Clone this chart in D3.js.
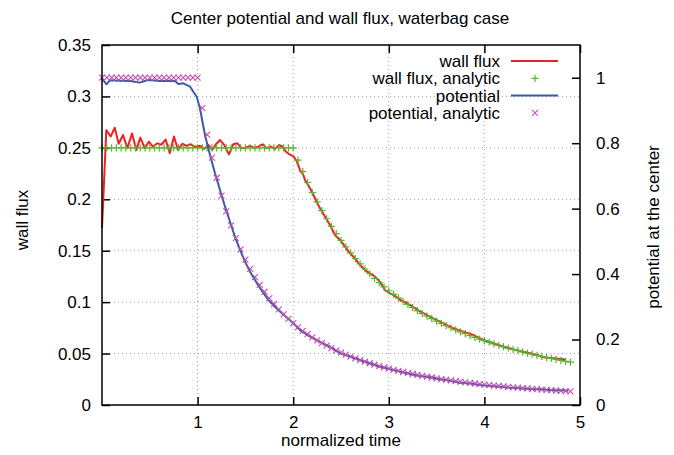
<!DOCTYPE html>
<html><head><meta charset="utf-8">
<script src="https://cdn.jsdelivr.net/npm/d3@7"></script>
<style>
body{margin:0;background:#fff;}
text{font-family:"Liberation Sans",Arial,sans-serif;fill:#000;}
</style></head>
<body><svg id="c" width="674" height="455"></svg>
<script>
// ---- data ----
const xTicks = [1, 2, 3, 4, 5];
const yLeftTicks = [0, 0.05, 0.1, 0.15, 0.2, 0.25, 0.3, 0.35];
const yRightTicks = [0, 0.2, 0.4, 0.6, 0.8, 1];

// simulated wall flux (left axis)
const fluxT = [0, 0.045, 0.091, 0.133, 0.175, 0.22, 0.265, 0.314, 0.359, 0.401, 0.447, 0.489, 0.533, 0.578, 0.62, 0.666, 0.708, 0.753, 0.795, 0.84, 0.882, 0.928, 0.97,
  1.025, 1.07, 1.112, 1.154, 1.192, 1.234, 1.279, 1.328, 1.373, 1.415, 1.461, 1.503, 1.548, 1.593, 1.635, 1.681, 1.723, 1.768, 1.81, 1.851, 1.89, 1.922, 1.956,
  2.001, 2.037, 2.071, 2.106, 2.123, 2.176, 2.228, 2.28, 2.333, 2.385, 2.437, 2.49, 2.542, 2.594, 2.646, 2.699, 2.751, 2.803, 2.856, 2.908, 2.96,
  3.013, 3.065, 3.117, 3.222, 3.326, 3.466, 3.57, 3.675, 3.779, 3.884, 3.988, 4.093, 4.198, 4.302, 4.407, 4.512, 4.616, 4.721, 4.825, 4.854];
const fluxV = [0.172, 0.2674, 0.261, 0.2696, 0.254, 0.2625, 0.2497, 0.264, 0.248, 0.26, 0.2497, 0.256, 0.2511, 0.2544, 0.253, 0.258, 0.2447, 0.261, 0.248, 0.254, 0.252, 0.2535, 0.251,
  0.252, 0.249, 0.2528, 0.248, 0.2535, 0.2576, 0.2528, 0.2437, 0.2535, 0.2544, 0.2497, 0.25, 0.252, 0.25, 0.2511, 0.2535, 0.2497, 0.2511, 0.249, 0.2528, 0.2511, 0.2464, 0.244,
  0.242, 0.237, 0.2285, 0.2236, 0.2187, 0.2107, 0.201, 0.1912, 0.1831, 0.175, 0.1653, 0.1604, 0.1539, 0.1475, 0.1426, 0.1361, 0.1312, 0.128, 0.1248, 0.1199, 0.1118,
  0.1086, 0.106, 0.1025, 0.0972, 0.091, 0.0843, 0.0794, 0.0746, 0.0713, 0.068, 0.0632, 0.06, 0.0567, 0.0541, 0.0518, 0.0496, 0.0464, 0.0454, 0.0444, 0.044];

// simulated potential at the center (right axis)
const potT = [0, 0.047, 0.084, 0.188, 0.293, 0.394, 0.481, 0.607, 0.711, 0.764, 0.798, 0.85, 0.921, 0.955, 0.991,
  1.025, 1.077, 1.13, 1.182, 1.234, 1.287, 1.339, 1.391, 1.444, 1.496, 1.548, 1.6, 1.653, 1.74, 1.844, 2.019, 2.071, 2.176, 2.28, 2.385, 2.49, 2.594, 2.699, 2.803, 2.908,
  3.013, 3.117, 3.222, 3.326, 3.431, 3.536, 3.64, 3.745, 3.849, 3.954, 4.059, 4.163, 4.268, 4.372, 4.477, 4.582, 4.686, 4.791, 4.878];
const potV = [0.998, 0.98, 0.992, 0.991, 0.99, 0.985, 0.993, 0.99, 0.991, 0.99, 0.981, 0.983, 0.973, 0.957, 0.942,
  0.906, 0.825, 0.764, 0.708, 0.657, 0.606, 0.56, 0.514, 0.474, 0.438, 0.407, 0.382, 0.357, 0.321, 0.29, 0.245, 0.229, 0.209, 0.193, 0.178, 0.158, 0.148, 0.1375, 0.127, 0.117,
  0.109, 0.102, 0.0947, 0.0886, 0.0846, 0.0785, 0.0742, 0.0681, 0.066, 0.061, 0.058, 0.056, 0.053, 0.051, 0.049, 0.048, 0.046, 0.045, 0.0437];

// analytic samples
const tAnalytic = [0, 0.05, 0.1, 0.15, 0.2, 0.25, 0.3, 0.35, 0.4, 0.45, 0.5, 0.55, 0.6, 0.65, 0.7, 0.75, 0.8, 0.85, 0.9, 0.95, 1.0,
  1.05, 1.1, 1.15, 1.2, 1.25, 1.3, 1.35, 1.4, 1.45, 1.5, 1.55, 1.6, 1.65, 1.7, 1.75, 1.8, 1.85, 1.9, 1.95, 2.0,
  2.05, 2.1, 2.15, 2.2, 2.25, 2.3, 2.35, 2.4, 2.45, 2.5, 2.55, 2.6, 2.65, 2.7, 2.75, 2.8, 2.85, 2.9, 2.95, 3.0,
  3.05, 3.1, 3.15, 3.2, 3.25, 3.3, 3.35, 3.4, 3.45, 3.5, 3.55, 3.6, 3.65, 3.7, 3.75, 3.8, 3.85, 3.9, 3.95, 4.0,
  4.05, 4.1, 4.15, 4.2, 4.25, 4.3, 4.35, 4.4, 4.45, 4.5, 4.55, 4.6, 4.65, 4.7, 4.75, 4.8, 4.85, 4.9];
const fluxAnalytic = [0.25, 0.25, 0.25, 0.25, 0.25, 0.25, 0.25, 0.25, 0.25, 0.25, 0.25, 0.25, 0.25, 0.25, 0.25, 0.25, 0.25, 0.25, 0.25, 0.25, 0.25,
  0.25, 0.25, 0.25, 0.25, 0.25, 0.25, 0.25, 0.25, 0.25, 0.25, 0.25, 0.25, 0.25, 0.25, 0.25, 0.25, 0.25, 0.25, 0.25, 0.25,
  0.238, 0.2268, 0.2163, 0.2066, 0.1975, 0.189, 0.1811, 0.1736, 0.1666, 0.16, 0.1538, 0.1479, 0.1424, 0.1372, 0.1322, 0.1276, 0.1231, 0.1189, 0.1149, 0.1111,
  0.1075, 0.1041, 0.1008, 0.0977, 0.0947, 0.0918, 0.0891, 0.0865, 0.084, 0.0816, 0.0793, 0.0772, 0.0751, 0.073, 0.0711, 0.0693, 0.0675, 0.0657, 0.0641, 0.0625,
  0.061, 0.0595, 0.0581, 0.0567, 0.0554, 0.0541, 0.0528, 0.0517, 0.0505, 0.0494, 0.0483, 0.0473, 0.0462, 0.0453, 0.0443, 0.0434, 0.0425, 0.0416];
const potAnalytic = [1, 1, 1, 1, 1, 1, 1, 1, 1, 1, 1, 1, 1, 1, 1, 1, 1, 1, 1, 1, 1,
  0.907, 0.8264, 0.7561, 0.6944, 0.64, 0.5917, 0.5487, 0.5102, 0.4756, 0.4444, 0.4162, 0.3906, 0.3673, 0.346, 0.3265, 0.3086, 0.2922, 0.277, 0.263, 0.25,
  0.238, 0.2268, 0.2163, 0.2066, 0.1975, 0.189, 0.1811, 0.1736, 0.1666, 0.16, 0.1538, 0.1479, 0.1424, 0.1372, 0.1322, 0.1276, 0.1231, 0.1189, 0.1149, 0.1111,
  0.1075, 0.1041, 0.1008, 0.0977, 0.0947, 0.0918, 0.0891, 0.0865, 0.084, 0.0816, 0.0793, 0.0772, 0.0751, 0.073, 0.0711, 0.0693, 0.0675, 0.0657, 0.0641, 0.0625,
  0.061, 0.0595, 0.0581, 0.0567, 0.0554, 0.0541, 0.0528, 0.0517, 0.0505, 0.0494, 0.0483, 0.0473, 0.0462, 0.0453, 0.0443, 0.0434, 0.0425, 0.0416];

const seriesNames = ["wall flux", "wall flux, analytic", "potential", "potential, analytic"];
const colors = {red: "#f02020", green: "#58b430", blue: "#3d5aa8", purple: "#c050b0"};

// ---- layout ----
const L = 102, R = 580, T = 45, B = 405;
const FS = 17;
const svg = d3.select("#c");
const x = d3.scaleLinear().domain([0, 5]).range([L, R]);
const yL = d3.scaleLinear().domain([0, 0.35]).range([B, T]);
const yR = d3.scaleLinear().domain([0, 1.1]).range([B, T]);

// grid
const grid = svg.append("g").attr("stroke", "#a0a0a0").attr("stroke-width", 1).attr("stroke-dasharray", "1,3");
xTicks.filter(d => d < 5).forEach(d => grid.append("line").attr("x1", x(d)).attr("x2", x(d)).attr("y1", T).attr("y2", B));
yLeftTicks.filter(d => d > 0 && d < 0.35).forEach(d => grid.append("line").attr("x1", L).attr("x2", R).attr("y1", yL(d)).attr("y2", yL(d)));

// axes
function styleAxis(g) {
  g.select(".domain").remove();
  g.selectAll(".tick line").attr("stroke", "#000").attr("stroke-width", 1.5);
  g.selectAll(".tick text").attr("font-size", FS).attr("font-family", "Liberation Sans, Arial, sans-serif").attr("fill", "#000");
}
svg.append("g").attr("transform", `translate(0,${B})`)
  .call(d3.axisBottom(x).tickValues(xTicks).tickFormat(d3.format("d")).tickSize(-8).tickPadding(11)).call(styleAxis);
svg.append("g").attr("transform", `translate(0,${T})`)
  .call(d3.axisTop(x).tickValues(xTicks).tickFormat("").tickSize(-8)).call(styleAxis);
svg.append("g").attr("transform", `translate(${L},0)`)
  .call(d3.axisLeft(yL).tickValues(yLeftTicks).tickFormat(d => d === 0 ? "0" : String(+d.toFixed(2))).tickSize(-8).tickPadding(11)).call(styleAxis);
svg.append("g").attr("transform", `translate(${R},0)`)
  .call(d3.axisRight(yR).tickValues(yRightTicks).tickFormat(d => d === 0 ? "0" : String(+d.toFixed(1))).tickSize(-8).tickPadding(16)).call(styleAxis);

// series
const lineL = d3.line().x(d => x(d[0])).y(d => yL(d[1]));
const lineR = d3.line().x(d => x(d[0])).y(d => yR(d[1]));
const plus = d3.symbol().type(d3.symbolPlus);

svg.append("path").datum(fluxT.map((t, i) => [t, fluxV[i]]))
  .attr("d", lineL).attr("fill", "none").attr("stroke", colors.red).attr("stroke-width", 2).attr("stroke-linejoin", "round");

const ms = 3.6;
const gPlus = svg.append("g").attr("stroke", colors.green).attr("stroke-width", 1.2);
tAnalytic.forEach((t, i) => {
  const cx = x(t), cy = yL(fluxAnalytic[i]);
  gPlus.append("path").attr("d", `M${cx - ms},${cy}H${cx + ms}M${cx},${cy - ms}V${cy + ms}`);
});

svg.append("path").datum(potT.map((t, i) => [t, potV[i]]))
  .attr("d", lineR).attr("fill", "none").attr("stroke", colors.blue).attr("stroke-width", 2).attr("stroke-linejoin", "round");

const xs = 3;
const gX = svg.append("g").attr("stroke", colors.purple).attr("stroke-width", 1.1);
tAnalytic.forEach((t, i) => {
  const cx = x(t), cy = yR(potAnalytic[i]);
  gX.append("path").attr("d", `M${cx - xs},${cy - xs}L${cx + xs},${cy + xs}M${cx - xs},${cy + xs}L${cx + xs},${cy - xs}`);
});

// frame
svg.append("rect").attr("x", L).attr("y", T).attr("width", R - L).attr("height", B - T)
  .attr("fill", "none").attr("stroke", "#000").attr("stroke-width", 1.5);

// legend
const legY = [61, 78.3, 95.6, 112.9];
const lg = svg.append("g");
seriesNames.forEach((name, i) => {
  lg.append("text").attr("x", 500).attr("y", legY[i]).attr("dy", "0.35em").attr("text-anchor", "end").attr("font-size", FS).text(name);
  const cx = 535, cy = legY[i];
  if (i === 0 || i === 2) {
    lg.append("line").attr("x1", 511).attr("x2", 558).attr("y1", cy).attr("y2", cy)
      .attr("stroke", i === 0 ? colors.red : colors.blue).attr("stroke-width", 2);
  } else if (i === 1) {
    lg.append("path").attr("d", `M${cx - ms},${cy}H${cx + ms}M${cx},${cy - ms}V${cy + ms}`).attr("stroke", colors.green).attr("stroke-width", 1.2);
  } else {
    lg.append("path").attr("d", `M${cx - xs},${cy - xs}L${cx + xs},${cy + xs}M${cx - xs},${cy + xs}L${cx + xs},${cy - xs}`).attr("stroke", colors.purple).attr("stroke-width", 1.1);
  }
});

// titles
svg.append("text").attr("x", 340).attr("y", 24).attr("text-anchor", "middle").attr("font-size", FS)
  .text("Center potential and wall flux, waterbag case");
svg.append("text").attr("x", 341).attr("y", 446).attr("text-anchor", "middle").attr("font-size", FS).text("normalized time");
svg.append("text").attr("transform", "translate(28,220) rotate(-90)").attr("text-anchor", "middle").attr("font-size", FS).text("wall flux");
svg.append("text").attr("transform", "translate(659,227) rotate(-90)").attr("text-anchor", "middle").attr("font-size", FS).text("potential at the center");
</script></body></html>
